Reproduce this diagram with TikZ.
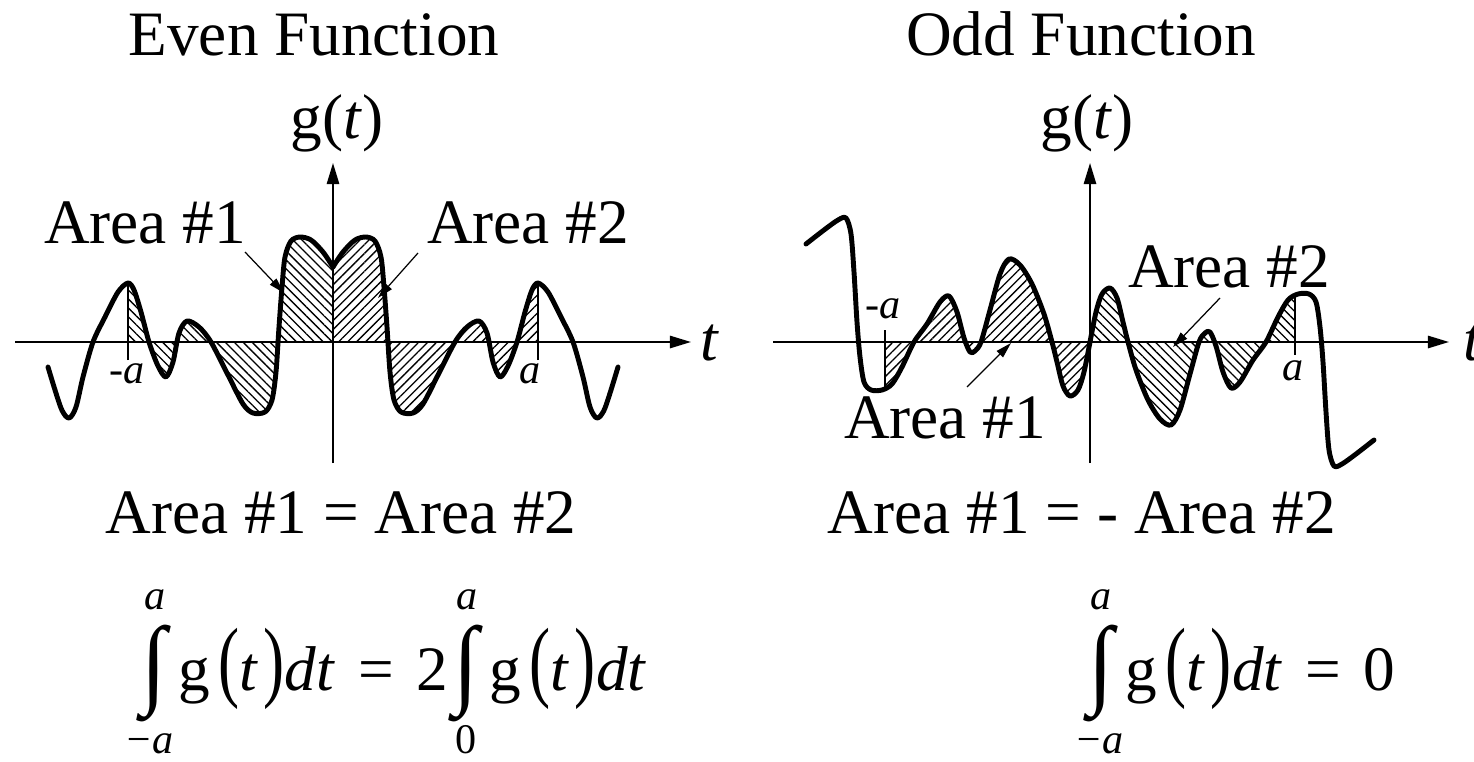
\documentclass[tikz,border=0pt]{standalone}
\usepackage{fontspec}
\setmainfont{Liberation Serif}
\usepackage{graphicx}
\usetikzlibrary{arrows.meta,patterns.meta,positioning}

% right half of each curve, #1 = 1 or -1 gives the mirrored half
\newcommand{\evenpath}[1]{plot[smooth,tension=0.5] coordinates {(0,75) (#1*10,90) (#1*22,102) (#1*33,105) (#1*42,101) (#1*48,85) (#1*51,55) (#1*54,15) (#1*57,-30) (#1*61,-58) (#1*68,-70) (#1*80,-71) (#1*90,-62) (#1*105,-33) (#1*122,0) (#1*134,15) (#1*146,21) (#1*154,9) (#1*160,-20) (#1*167,-35) (#1*175,-24) (#1*184,0) (#1*192,30) (#1*199,52) (#1*205,59) (#1*215,50) (#1*228,25) (#1*240,0) (#1*250,-35) (#1*257,-65) (#1*264,-76) (#1*272,-66) (#1*285,-25)}}
\newcommand{\oddpath}[1]{plot[smooth,tension=0.5] coordinates {(0,0) (#1*6,#1*30) (#1*12,#1*48) (#1*20,#1*54) (#1*27,#1*44) (#1*33,#1*20) (#1*38,0) (#1*46,#1*-28) (#1*58,#1*-58) (#1*70,#1*-77) (#1*81,#1*-83) (#1*90,#1*-68) (#1*100,#1*-32) (#1*109,0) (#1*115,#1*9) (#1*120,#1*10) (#1*126,#1*-4) (#1*133,#1*-30) (#1*141,#1*-46) (#1*150,#1*-40) (#1*163,#1*-18) (#1*176,0) (#1*188,#1*25) (#1*198,#1*42) (#1*208,#1*48) (#1*219,#1*48) (#1*226,#1*40) (#1*230,#1*15) (#1*233,#1*-20) (#1*236,#1*-70) (#1*239,#1*-108) (#1*244,#1*-124) (#1*252,#1*-122) (#1*266,#1*-112) (#1*284,#1*-98)}}

\newcommand{\tallp}[1]{\scalebox{1}[1.42]{#1}}
\newcommand{\gdt}{g\hspace{5pt}\tallp{(}\textit{t}\hspace{3pt}\tallp{)}\textit{dt}}
\newcommand{\eqsign}{\hspace{4pt} = \hspace{4pt}}

\tikzset{
  axis/.style={line width=1.1pt, -{Triangle[length=12pt,width=7pt]}},
  curve/.style={line width=2.8pt, line cap=round, line join=round},
  tickline/.style={line width=0.7pt},
  leader/.style={line width=0.7pt, -{Triangle[length=9pt,width=5pt]}},
  hatchback/.style={pattern={Lines[angle=-45,distance=3.6pt,line width=0.75pt]}},
  hatchfwd/.style={pattern={Lines[angle=45,distance=3.6pt,line width=0.75pt]}},
  bigtext/.style={font=\fontsize{36}{43}\selectfont, anchor=base, inner sep=0pt},
  endlabel/.style={font=\fontsize{24}{28}\selectfont, anchor=base, inner sep=0pt},
  formula/.style={font=\fontsize{36}{43}\selectfont, anchor=base west, inner sep=0pt},
  intsign/.style={font=\fontsize{52}{52}\selectfont\bfseries, inner sep=0pt},
  limit/.style={font=\fontsize{24}{28}\selectfont\itshape, anchor=base, inner sep=0pt}
}

\begin{document}
\begin{tikzpicture}[x=0.02cm, y=0.02cm]
  \useasboundingbox (0,0) rectangle (1474,-761);

  % even function
  \begin{scope}[shift={(333,-342)}]
    \coordinate (eW) at (-318,0);
    \coordinate (eE) at (358,0);
    \coordinate (eS) at (0,-121);
    \coordinate (eN) at (0,179);
    \begin{scope}
      \clip (-205,-130) rectangle (0,130);
      \path[hatchback] \evenpath{-1} -- (-285,0) -- (0,0) -- cycle;
    \end{scope}
    \begin{scope}
      \clip (0,-130) rectangle (205,130);
      \path[hatchfwd] \evenpath{1} -- (285,0) -- (0,0) -- cycle;
    \end{scope}
    \draw[tickline] (-205,-18) -- (-205,58);
    \draw[tickline] (205,-18) -- (205,58);
    \draw[axis] (eW) -- (eE);
    \draw[axis] (eS) -- (eN);
    \draw[curve] \evenpath{-1};
    \draw[curve] \evenpath{1};
    \node[endlabel] (eNegA) at (-206,-41) {-\textit{a}};
    \node[endlabel] (ePosA) at (197,-41) {\textit{a}};
    \node[bigtext] (eT) at (377,-18) {\textit{t}};
    \node[bigtext] (eG) at (4,204) {g(\textit{t})};
    \node[bigtext] (eArea1) at (-188,99) {Area \#1};
    \node[bigtext] (eArea2) at (195,99) {Area \#2};
    \coordinate (eFrom1) at (-88,90);
    \coordinate (eTip1) at (-49,49);
    \coordinate (eFrom2) at (85,89);
    \coordinate (eTip2) at (45,44);
    \draw[leader] (eFrom1) -- (eTip1);
    \draw[leader] (eFrom2) -- (eTip2);
  \end{scope}

  % odd function
  \begin{scope}[shift={(1090,-342)}]
    \coordinate (oW) at (-317,0);
    \coordinate (oE) at (359,0);
    \coordinate (oS) at (0,-121);
    \coordinate (oN) at (0,179);
    \begin{scope}
      \clip (-205,-130) rectangle (0,130);
      \path[hatchfwd] \oddpath{-1} -- (-284,0) -- (0,0) -- cycle;
    \end{scope}
    \begin{scope}
      \clip (0,-130) rectangle (205,130);
      \path[hatchback] \oddpath{1} -- (284,0) -- (0,0) -- cycle;
    \end{scope}
    \draw[tickline] (-205,12) -- (-205,-45);
    \draw[tickline] (205,46) -- (205,-13);
    \draw[axis] (oW) -- (oE);
    \draw[axis] (oS) -- (oN);
    \draw[curve] \oddpath{-1};
    \draw[curve] \oddpath{1};
    \node[endlabel] (oNegA) at (-207,24) {-\textit{a}};
    \node[endlabel] (oPosA) at (203,-38) {\textit{a}};
    \node[bigtext, anchor=base west] (oT) at (373,-18) {\textit{t}};
    \node[bigtext] (oG) at (-3,204) {g(\textit{t})};
    \node[bigtext] (oArea2) at (139,55) {Area \#2};
    \node[bigtext] (oArea1) at (-145,-96) {Area \#1};
    \coordinate (oFrom2) at (130,44);
    \coordinate (oTip2) at (83,-5);
    \coordinate (oFrom1) at (-123,-45);
    \coordinate (oTip1) at (-79,-1);
    \draw[leader] (oFrom2) -- (oTip2);
    \draw[leader] (oFrom1) -- (oTip1);
  \end{scope}

  % titles and results
  \node[bigtext] (evenTitle) at (314,-55) {Even Function};
  \node[bigtext] (oddTitle) at (1081,-55) {Odd Function};
  \node[bigtext] (evenRule) at (341,-533) {Area \#1 = Area \#2};
  \node[bigtext] (oddRule) at (1082,-533) {Area \#1 = - Area \#2};

  % integrals
  \node[intsign] (eInt1) at (154,-673) {\scalebox{1}[1.08]{∫}};
  \node[limit] (eInt1Up) at (155,-609) {a};
  \node[limit] (eInt1Lo) at (149,-753) {−a};
  \node[formula] (eBody1) at (178,-690) {\gdt\eqsign 2};
  \node[intsign] (eInt2) at (466,-673) {\scalebox{1}[1.08]{∫}};
  \node[limit] (eInt2Up) at (467,-609) {a};
  \node[limit] (eInt2Lo) at (466,-753) {\upshape 0};
  \node[formula] (eBody2) at (489,-690) {\gdt};
  \node[intsign] (oInt) at (1101,-673) {\scalebox{1}[1.08]{∫}};
  \node[limit] (oIntUp) at (1101,-609) {a};
  \node[limit] (oIntLo) at (1099,-753) {−a};
  \node[formula] (oBody) at (1125,-690) {\gdt\eqsign 0};
\end{tikzpicture}
\end{document}
